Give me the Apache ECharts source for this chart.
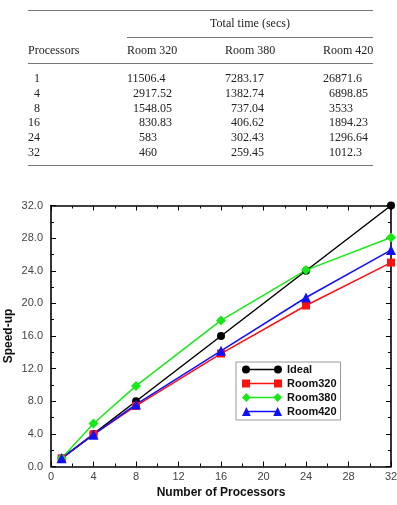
<!DOCTYPE html>
<html><head><meta charset="utf-8">
<script src="https://cdn.jsdelivr.net/npm/echarts@6/dist/echarts.min.js"></script>
<style>html,body{margin:0;padding:0;background:#fff}#c{width:397px;height:505px}</style>
</head><body><div id="c"></div>
<script>
// ---- table data ----
const tableHeader = "Total time (secs)";
const colHeaders = ["Processors", "Room 320", "Room 380", "Room 420"];
const processorsCol = ["1", "4", "8", "16", "24", "32"];
const room320Time = ["11506.4", "2917.52", "1548.05", "830.83", "583", "460"];
const room380Time = ["7283.17", "1382.74", "737.04", "406.62", "302.43", "259.45"];
const room420Time = ["26871.6", "6898.85", "3533", "1894.23", "1296.64", "1012.3"];

// ---- chart data ----
const processors = [1, 4, 8, 16, 24, 32];
const ideal = [1, 4, 8, 16, 24, 32];
const room320 = [1, 3.94, 7.43, 13.85, 19.74, 25.0];
const room380 = [1, 5.27, 9.88, 17.91, 24.08, 28.07];
const room420 = [1, 3.90, 7.61, 14.19, 20.72, 26.54];

const chart = echarts.init(document.getElementById('c'));

// table graphics
const serif = '"Liberation Serif","DejaVu Serif",serif';
const tColor = '#222';
const ruleColor = '#777';
const g = [];
function rule(x1, x2, y) {
  g.push({type: 'line', shape: {x1: x1, y1: y, x2: x2, y2: y}, style: {stroke: ruleColor, lineWidth: 1}, silent: true});
}
function txt(s, x, y) {
  g.push({type: 'text', x: x, y: y, style: {text: s, font: '12px ' + serif, fill: tColor, textAlign: 'left', textVerticalAlign: 'middle'}, silent: true});
}
rule(28, 373, 10.5);
g.push({type: 'text', x: 250, y: 24, style: {text: tableHeader, font: '12px ' + serif, fill: tColor, textAlign: 'center', textVerticalAlign: 'middle'}, silent: true});
rule(127, 373, 37.5);
const colX = [28, 127, 225, 323];
colHeaders.forEach((h, i) => txt(h, colX[i], 51));
rule(28, 373, 63.5);
// numbers are aligned by their integer part (digit width ~6px)
const cols = [processorsCol, room320Time, room380Time, room420Time];
const refDigits = [2, 5, 4, 5];
const digitW = 6;
cols.forEach((col, ci) => {
  col.forEach((s, ri) => {
    const n = s.split('.')[0].length;
    txt(s, colX[ci] + (refDigits[ci] - n) * digitW, 79 + ri * 14.7);
  });
});
rule(28, 373, 165.5);

const sans = 'Arial, "Liberation Sans", Helvetica, sans-serif';

function iconPath(kind) {
  const bar = 'M4,4.3 L36,4.3 L36,5.7 L4,5.7 Z ';
  function shape(cx) {
    if (kind === 'circle') return 'M' + (cx - 4) + ',5 A4,4 0 1,1 ' + (cx + 4) + ',5 A4,4 0 1,1 ' + (cx - 4) + ',5 Z ';
    if (kind === 'rect') return 'M' + (cx - 4) + ',1 L' + (cx + 4) + ',1 L' + (cx + 4) + ',9 L' + (cx - 4) + ',9 Z ';
    if (kind === 'diamond') return 'M' + (cx - 4.5) + ',5 L' + cx + ',0.5 L' + (cx + 4.5) + ',5 L' + cx + ',9.5 Z ';
    return 'M' + (cx - 4.5) + ',9.5 L' + cx + ',0.5 L' + (cx + 4.5) + ',9.5 Z ';
  }
  return 'path://' + bar + shape(4) + shape(36);
}

function mk(name, data, color, symbol, size) {
  return {
    name: name, type: 'line', data: processors.map((p, i) => [p, data[i]]),
    symbol: symbol, symbolSize: size, showSymbol: true,
    lineStyle: {color: color, width: 1.5}, itemStyle: {color: color, borderWidth: 0},
    emphasis: {disabled: true}, animation: false, z: 3
  };
}

const axisCommon = {
  type: 'value', min: 0, max: 32, interval: 4,
  axisLine: {show: true, onZero: false, lineStyle: {color: '#000', width: 1.6}},
  axisTick: {show: true, inside: true, length: 5, lineStyle: {color: '#000', width: 1}},
  minorTick: {show: true, splitNumber: 2, length: 3, lineStyle: {color: '#000', width: 1}},
  splitLine: {show: false}
};

chart.setOption({
  animation: false,
  graphic: g,
  grid: {left: 51, right: 6, top: 205.5, bottom: 38.5, containLabel: false, outerBoundsMode: 'none'},
  legend: {
    orient: 'vertical', left: 236, top: 362,
    backgroundColor: '#fff', borderColor: '#999', borderWidth: 1,
    padding: [2, 4, 3, 6], itemGap: 3, itemWidth: 40, itemHeight: 10,
    textStyle: {fontFamily: sans, fontSize: 11, fontWeight: 'bold', color: '#111', padding: [0, 0, 0, 0]},
    data: [
      {name: 'Ideal', icon: iconPath('circle')},
      {name: 'Room320', icon: iconPath('rect')},
      {name: 'Room380', icon: iconPath('diamond')},
      {name: 'Room420', icon: iconPath('triangle')}
    ]
  },
  xAxis: [
    Object.assign({}, axisCommon, {
      position: 'bottom', name: 'Number of Processors', nameLocation: 'middle', nameGap: 20,
      nameMoveOverlap: false,
      nameTextStyle: {fontFamily: sans, fontSize: 12, fontWeight: 'bold', color: '#111'},
      axisLabel: {show: true, margin: 5, fontFamily: sans, fontSize: 11, color: '#444'}
    }),
    Object.assign({}, axisCommon, {position: 'top', axisLabel: {show: false}})
  ],
  yAxis: [
    Object.assign({}, axisCommon, {
      position: 'left', name: 'Speed-up', nameLocation: 'middle', nameGap: 36,
      nameMoveOverlap: false,
      nameTextStyle: {fontFamily: sans, fontSize: 12, fontWeight: 'bold', color: '#111'},
      axisLabel: {show: true, margin: 8, fontFamily: sans, fontSize: 11, color: '#444',
        formatter: v => v.toFixed(1)}
    }),
    Object.assign({}, axisCommon, {position: 'right', axisLabel: {show: false}})
  ],
  series: [
    mk('Ideal', ideal, '#000000', 'circle', 8),
    mk('Room320', room320, '#ff1010', 'rect', 8),
    mk('Room380', room380, '#18e818', 'diamond', 10),
    mk('Room420', room420, '#1010ff', 'triangle', 10)
  ]
});
</script>
</body></html>
